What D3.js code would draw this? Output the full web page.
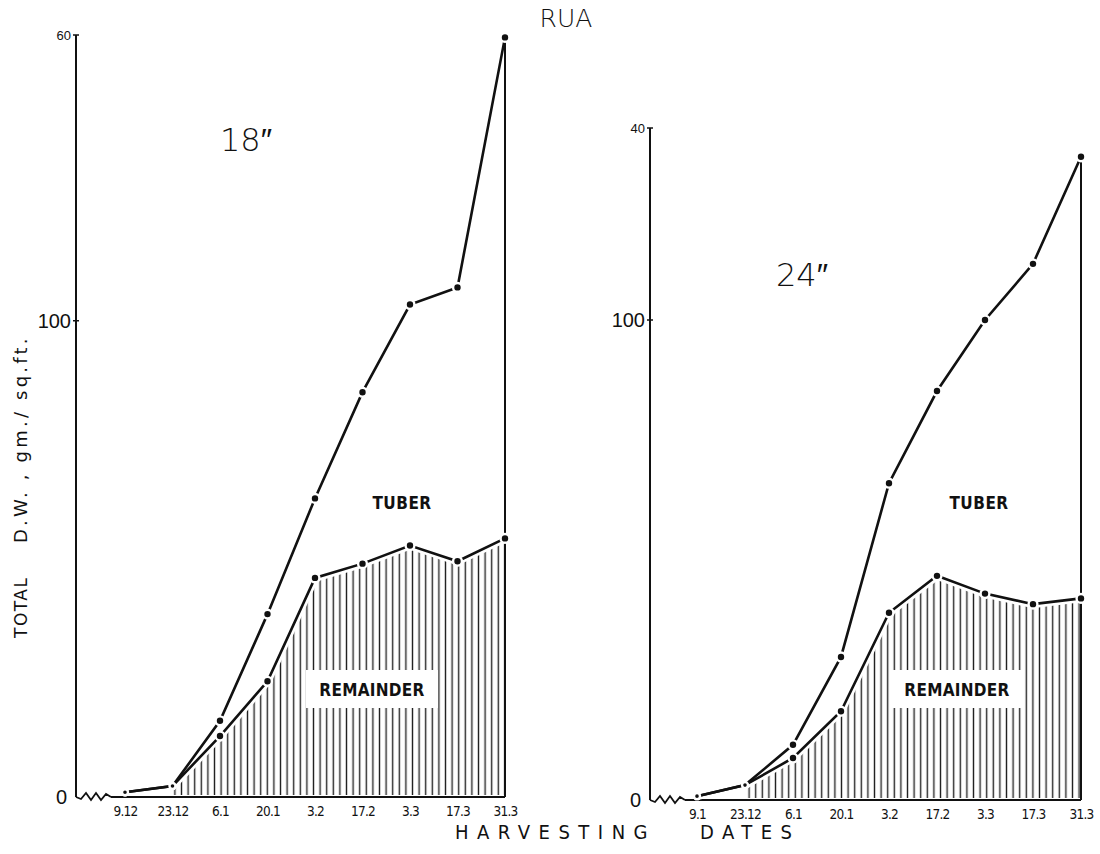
<!DOCTYPE html>
<html>
<head>
<meta charset="utf-8">
<script src="https://cdn.jsdelivr.net/npm/d3@7"></script>
<style>
  body { margin: 0; background: #fff; }
  svg { display: block; }
</style>
</head>
<body>
<div id="chart"></div>
<script>
// harvesting dates (x categories) for each panel
const dates18 = ["9.12", "23.12", "6.1", "20.1", "3.2", "17.2", "3.3", "17.3", "31.3"];
const dates24 = ["9.1", "23.12", "6.1", "20.1", "3.2", "17.2", "3.3", "17.3", "31.3"];

// total dry weight (upper curve) and remainder (lower, hatched curve), gm./sq.ft.
const total18 = [1, 2.3, 16, 38.4, 62.7, 85, 103.4, 107, 159.5];
const remainder18 = [1, 2.3, 12.8, 24.3, 46, 49, 52.8, 49.5, 54.3];
const total24 = [0.8, 3.1, 11.5, 29.8, 66, 85.2, 100, 111.7, 134];
const remainder24 = [0.8, 3.1, 8.75, 18.5, 39, 46.7, 43, 40.8, 42];

// y tick values and the labels as printed on the figure
const yTicks18 = [0, 100, 160];
const yTickLabels18 = ["0", "100", "60"];
const yTicks24 = [0, 100, 140];
const yTickLabels24 = ["0", "100", "40"];

const W = 1100, H = 854;
const svg = d3.select("#chart").append("svg")
    .attr("width", W)
    .attr("height", H);

// vertical hatch used under the remainder curve
svg.append("defs").append("pattern")
    .attr("id", "hatch")
    .attr("patternUnits", "userSpaceOnUse")
    .attr("width", 6.6)
    .attr("height", 12)
    .append("line")
    .attr("x1", 3.3).attr("x2", 3.3)
    .attr("y1", 0).attr("y2", 12)
    .attr("stroke", "#222")
    .attr("stroke-width", 1.4);

const condensed = "'DejaVu Sans Condensed', 'DejaVu Sans', sans-serif";

function drawPanel(opts) {
    const { dates, total, remainder, x, y, ticks, tickLabels } = opts;
    const g = svg.append("g");
    const axisX = opts.axisX;
    const y0 = y(0);
    const rows = dates.map((d, i) => ({ date: d, total: total[i], rem: remainder[i] }));

    // hatched remainder area (from the second date on)
    const area = d3.area()
        .x(d => x(d.date))
        .y0(y0 - 2)
        .y1(d => y(d.rem));
    g.append("path")
        .datum(rows.slice(1))
        .attr("d", area)
        .attr("fill", "url(#hatch)");

    // y axis
    g.append("line")
        .attr("x1", axisX).attr("x2", axisX)
        .attr("y1", y(ticks[ticks.length - 1])).attr("y2", y0)
        .attr("stroke", "#111").attr("stroke-width", 2);
    ticks.slice(1).forEach(t => {
        g.append("line")
            .attr("x1", axisX - 3).attr("x2", axisX + 3)
            .attr("y1", y(t)).attr("y2", y(t))
            .attr("stroke", "#111").attr("stroke-width", 1.5);
    });
    ticks.forEach((t, i) => {
        const top = i === ticks.length - 1;
        g.append("text")
            .attr("x", t === 0 ? axisX - 9 : axisX - 5)
            .attr("y", y(t))
            .attr("dy", "0.35em")
            .attr("text-anchor", "end")
            .attr("font-family", "'Liberation Sans', Arial, sans-serif")
            .attr("font-size", top ? 13 : 20)
            .attr("fill", "#111")
            .text(tickLabels[i]);
    });

    // broken x axis: zigzag then straight line
    const zz = [[axisX, y0], [axisX + 5, y0 + 2], [axisX + 10, y0 - 4], [axisX + 15, y0 + 3],
                [axisX + 20, y0 - 4], [axisX + 25, y0 + 3], [axisX + 30, y0 - 3], [axisX + 35, y0]];
    g.append("path")
        .attr("d", d3.line()(zz))
        .attr("fill", "none")
        .attr("stroke", "#111").attr("stroke-width", 1.8);
    g.append("line")
        .attr("x1", axisX + 35).attr("x2", x(dates[dates.length - 1]))
        .attr("y1", y0).attr("y2", y0)
        .attr("stroke", "#111").attr("stroke-width", 2);

    // x tick labels through a d3 axis
    const xAxis = g.append("g")
        .attr("transform", `translate(0,${y0 + 6})`)
        .call(d3.axisBottom(x).tickSize(0));
    xAxis.select(".domain").remove();
    xAxis.selectAll("text")
        .attr("font-family", condensed)
        .attr("font-size", 13.5)
        .attr("letter-spacing", "-0.7")
        .attr("fill", "#111");

    // closing vertical line at the last date
    const last = rows[rows.length - 1];
    g.append("line")
        .attr("x1", x(last.date)).attr("x2", x(last.date))
        .attr("y1", y(last.total)).attr("y2", y0)
        .attr("stroke", "#111").attr("stroke-width", 2);

    const line = key => d3.line().x(d => x(d.date)).y(d => y(d[key]));

    // white casing keeps hatch clear of the remainder curve
    g.append("path")
        .datum(rows)
        .attr("d", line("rem"))
        .attr("fill", "none")
        .attr("stroke", "#fff").attr("stroke-width", 8);

    ["total", "rem"].forEach(key => {
        g.append("path")
            .datum(rows)
            .attr("d", line(key))
            .attr("fill", "none")
            .attr("stroke", "#111")
            .attr("stroke-width", 2.6);
        g.selectAll(".dot-" + key)
            .data(rows)
            .enter()
            .append("circle")
            .attr("class", "dot-" + key)
            .attr("cx", d => x(d.date))
            .attr("cy", d => y(d[key]))
            .attr("r", (d, i) => i < 2 ? 3 : 4.4)
            .attr("fill", "#111")
            .attr("stroke", "#fff")
            .attr("stroke-width", 2.4);
    });

    // labels
    g.append("text")
        .attr("x", opts.tuberX).attr("y", 503)
        .attr("dy", "0.35em")
        .attr("text-anchor", "middle")
        .attr("font-family", condensed)
        .attr("font-weight", "bold")
        .attr("font-size", 17)
        .attr("letter-spacing", "0.5")
        .attr("fill", "#111")
        .text("TUBER");

    g.append("rect")
        .attr("x", opts.remX - 66).attr("y", 670)
        .attr("width", 132).attr("height", 38)
        .attr("fill", "#fff");
    g.append("text")
        .attr("x", opts.remX).attr("y", 690)
        .attr("dy", "0.35em")
        .attr("text-anchor", "middle")
        .attr("font-family", condensed)
        .attr("font-weight", "bold")
        .attr("font-size", 17)
        .attr("letter-spacing", "0.3")
        .attr("fill", "#111")
        .text("REMAINDER");

    g.append("text")
        .attr("x", opts.titleX).attr("y", opts.titleY)
        .attr("dy", "0.35em")
        .attr("text-anchor", "middle")
        .attr("font-family", "'DejaVu Sans', sans-serif")
        .attr("font-weight", 200)
        .attr("font-size", 32)
        .attr("fill", "#111")
        .text(opts.title);
}

drawPanel({
    dates: dates18, total: total18, remainder: remainder18,
    x: d3.scalePoint().domain(dates18).range([125, 505]),
    y: d3.scaleLinear().domain([0, 160]).range([797, 35]),
    axisX: 76, ticks: yTicks18, tickLabels: yTickLabels18,
    tuberX: 402, remX: 372, title: "18\u2033", titleX: 246, titleY: 140
});

drawPanel({
    dates: dates24, total: total24, remainder: remainder24,
    x: d3.scalePoint().domain(dates24).range([697, 1081]),
    y: d3.scaleLinear().domain([0, 140]).range([800, 128]),
    axisX: 650, ticks: yTicks24, tickLabels: yTickLabels24,
    tuberX: 979, remX: 957, title: "24\u2033", titleX: 802, titleY: 275
});

// figure title
svg.append("text")
    .attr("x", 566).attr("y", 18)
    .attr("dy", "0.35em")
    .attr("text-anchor", "middle")
    .attr("font-family", "'DejaVu Sans', sans-serif")
    .attr("font-weight", 200)
    .attr("font-size", 25)
    .attr("fill", "#111")
    .text("RUA");

// x axis title
svg.append("text")
    .attr("x", 455).attr("y", 832)
    .attr("dy", "0.35em")
    .attr("font-family", condensed)
    .attr("font-size", 20)
    .attr("letter-spacing", "8.5")
    .attr("fill", "#111")
    .text("HARVESTING");
svg.append("text")
    .attr("x", 700).attr("y", 832)
    .attr("dy", "0.35em")
    .attr("font-family", condensed)
    .attr("font-size", 20)
    .attr("letter-spacing", "8.5")
    .attr("fill", "#111")
    .text("DATES");

// y axis title, rotated
const yTitle = svg.append("g").attr("transform", "translate(27,0) rotate(-90)");
yTitle.append("text")
    .attr("x", -638).attr("y", 0)
    .attr("font-family", "'DejaVu Sans', sans-serif")
    .attr("font-size", 17)
    .attr("letter-spacing", "1.5")
    .attr("fill", "#111")
    .text("TOTAL");
yTitle.append("text")
    .attr("x", -543).attr("y", 0)
    .attr("font-family", "'DejaVu Sans', sans-serif")
    .attr("font-size", 18)
    .attr("letter-spacing", "3.2")
    .attr("fill", "#111")
    .text("D.W. , gm./ sq.ft.");
</script>
</body>
</html>
